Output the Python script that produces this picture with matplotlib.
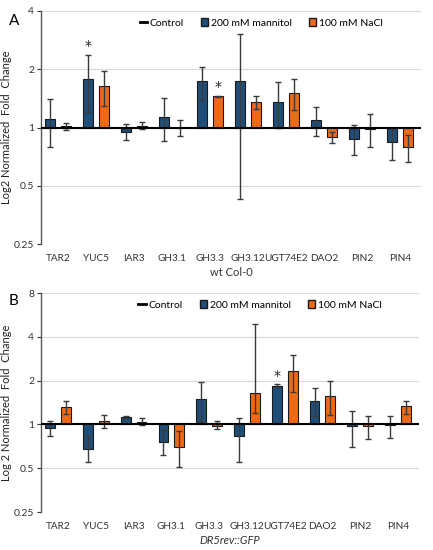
import matplotlib.pyplot as plt
from matplotlib.lines import Line2D
from matplotlib.patches import Patch
import numpy as np

genes = ['TAR2', 'YUC5', 'IAR3', 'GH3.1', 'GH3.3', 'GH3.12', 'UGT74E2', 'DAO2', 'PIN2', 'PIN4']

# Painel A - wt Col-0
a_man = [1.11, 1.78, 0.95, 1.14, 1.73, 1.74, 1.35, 1.09, 0.87, 0.84]
a_man_hi = [1.41, 2.37, 1.04, 1.43, 2.06, 3.03, 1.71, 1.27, 1.03, 1.00]
a_man_lo = [0.79, 1.20, 0.86, 0.85, 1.39, 0.43, 1.00, 0.90, 0.72, 0.68]
a_nacl = [1.02, 1.64, 1.02, 1.00, 1.45, 1.35, 1.50, 0.89, 0.98, 0.79]
a_nacl_hi = [1.05, 1.97, 1.065, 1.10, 1.46, 1.46, 1.78, 0.95, 1.17, 0.92]
a_nacl_lo = [0.97, 1.30, 0.98, 0.91, 1.44, 1.25, 1.23, 0.83, 0.79, 0.665]
a_star_man = [1]
a_star_nacl = [4]

# Painel B - DR5rev::GFP
b_man = [0.94, 0.68, 1.12, 0.76, 1.49, 0.83, 1.84, 1.46, 0.97, 0.99]
b_man_hi = [1.05, 0.83, 1.135, 0.91, 1.95, 1.10, 1.89, 1.79, 1.23, 1.15]
b_man_lo = [0.84, 0.55, 1.09, 0.62, 1.04, 0.556, 1.81, 1.15, 0.705, 0.81]
b_nacl = [1.32, 1.054, 1.043, 0.70, 0.98, 1.64, 2.34, 1.56, 0.97, 1.33]
b_nacl_hi = [1.44, 1.16, 1.10, 0.90, 1.05, 4.94, 3.00, 1.99, 1.15, 1.45]
b_nacl_lo = [1.18, 0.95, 0.985, 0.508, 0.93, 1.20, 1.66, 1.17, 0.79, 1.19]
b_star_man = [6]
b_star_nacl = []

cor_man = '#1F4E79'
cor_nacl = '#EE6A14'

plt.rcParams['font.family'] = 'Lato'
fig = plt.figure(figsize=(4.33, 5.5), dpi=100)


def painel(ax, man, man_hi, man_lo, nacl, nacl_hi, nacl_lo, star_m, star_n, ymax, ylabel, xlabel, italic):
    x = np.arange(len(genes))
    w = 0.26
    off = 0.21
    man = np.array(man)
    nacl = np.array(nacl)
    ax.bar(x - off, man - 1, w, bottom=1, color=cor_man, edgecolor='#1a1a1a', linewidth=0.8, zorder=2)
    ax.bar(x + off, nacl - 1, w, bottom=1, color=cor_nacl, edgecolor='#1a1a1a', linewidth=0.8, zorder=2)
    ax.errorbar(x - off, man, yerr=[man - np.array(man_lo), np.array(man_hi) - man], fmt='none',
                ecolor='#3a3a3a', elinewidth=1, capsize=2.5, capthick=1, zorder=3)
    ax.errorbar(x + off, nacl, yerr=[nacl - np.array(nacl_lo), np.array(nacl_hi) - nacl], fmt='none',
                ecolor='#3a3a3a', elinewidth=1, capsize=2.5, capthick=1, zorder=3)
    ax.axhline(1, color='black', linewidth=1.5, zorder=4)
    for i in star_m:
        ax.text(i - off, man_hi[i] * 1.02, '*', ha='center', va='bottom', fontsize=10,
                family='DejaVu Sans', color='#222222')
    for i in star_n:
        ax.text(i + off, nacl_hi[i] * 1.02, '*', ha='center', va='bottom', fontsize=10,
                family='DejaVu Sans', color='#222222')

    ax.set_yscale('log', base=2)
    ax.set_ylim(0.25, ymax)
    ticks = [0.25, 0.5, 1, 2, 4] + ([8] if ymax > 4 else [])
    ax.set_yticks(ticks)
    ax.set_yticklabels([f'{t:g}' for t in ticks])
    ax.minorticks_off()
    ax.set_xlim(-0.45, 9.55)
    ax.set_xticks(x)
    ax.set_xticklabels(genes)
    ax.tick_params(axis='x', length=0, labelsize=7.2, colors='#333333', pad=7)
    ax.tick_params(axis='y', length=3, labelsize=7.5, colors='#333333', pad=2)
    ax.grid(axis='y', color='#d9d9d9', linewidth=0.8, zorder=0)
    ax.set_axisbelow(True)
    for s in ['top', 'right', 'bottom']:
        ax.spines[s].set_visible(False)
    ax.spines['left'].set_color('#555555')
    ax.spines['left'].set_linewidth(1)
    ax.set_ylabel(ylabel, fontsize=8, color='#222222')
    ax.yaxis.set_label_coords(-0.077, 0.5)
    ax.set_xlabel(xlabel, fontsize=8, color='#333333', style='italic' if italic else 'normal', labelpad=3)

    handles = [Line2D([0], [0], color='black', linewidth=2),
               Patch(facecolor=cor_man, edgecolor='#1a1a1a'),
               Patch(facecolor=cor_nacl, edgecolor='#1a1a1a')]
    ax.legend(handles, ['Control', '200 mM mannitol', '100 mM NaCl'], ncol=3, frameon=False,
              loc='upper center', bbox_to_anchor=(0.58, 1.01), fontsize=7.5, handlelength=0.7,
              handleheight=0.8, handletextpad=0.3, columnspacing=1.6)


ax1 = fig.add_axes([0.095, 0.556, 0.877, 0.424])
painel(ax1, a_man, a_man_hi, a_man_lo, a_nacl, a_nacl_hi, a_nacl_lo, a_star_man, a_star_nacl,
       4, 'Log2 Normalized  Fold  Change', 'wt Col-0', False)
fig.text(0.02, 0.955, 'A', fontsize=11)

ax2 = fig.add_axes([0.095, 0.069, 0.872, 0.398])
painel(ax2, b_man, b_man_hi, b_man_lo, b_nacl, b_nacl_hi, b_nacl_lo, b_star_man, b_star_nacl,
       8, 'Log 2 Normalized  Fold  Change', 'DR5rev::GFP', True)
fig.text(0.02, 0.445, 'B', fontsize=11)

plt.savefig('out.png', dpi=100)
